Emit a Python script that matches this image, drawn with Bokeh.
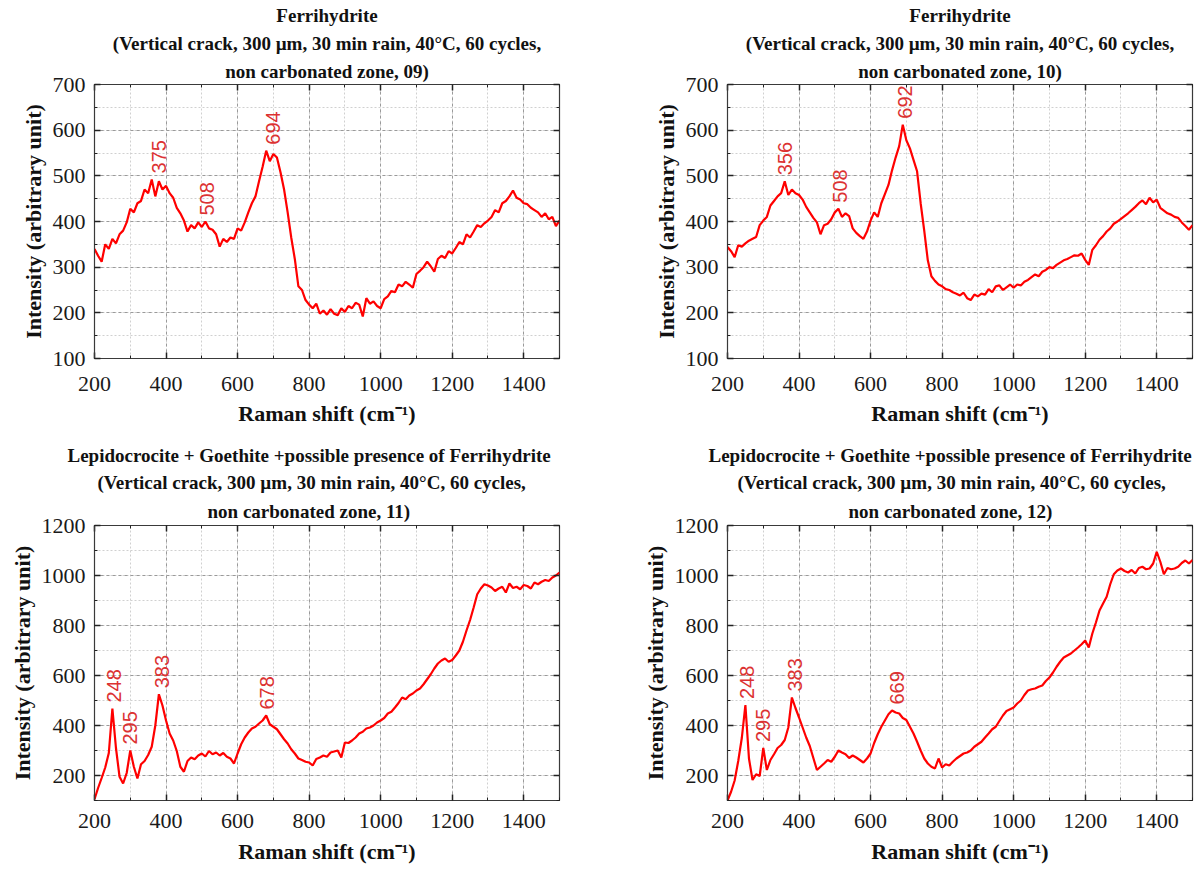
import numpy as np
from bokeh.plotting import figure
from bokeh.models import Title, LinearAxis, SingleIntervalTicker, Range1d, CustomJSTickFormatter
from bokeh.layouts import column, row
from bokeh.embed import file_html
from bokeh.resources import INLINE
from bokeh.core.properties import value

# ---------------- data ----------------
wavenumber = list(range(200, 1501, 10))

intensity_09 = [
    340, 325, 312, 350, 340, 362, 352, 372, 380, 398,
    428, 420, 440, 445, 470, 462, 492, 455, 488, 470,
    478, 462, 452, 430, 418, 402, 378, 392, 385, 398,
    388, 400, 385, 382, 372, 345, 362, 355, 365, 362,
    385, 380, 398, 420, 440, 455, 488, 520, 555, 532,
    548, 540, 508, 470, 420, 365, 318, 258, 250, 228,
    218, 210, 220, 198, 205, 196, 208, 198, 195, 210,
    202, 215, 210, 222, 218, 192, 232, 220, 225, 215,
    210, 230, 236, 248, 245, 262, 258, 268, 262, 255,
    285, 292, 300, 312, 302, 290, 318, 325, 320, 335,
    330, 342, 355, 350, 372, 365, 378, 392, 388, 396,
    402, 410, 425, 420, 440, 445, 455, 468, 452, 448,
    440, 438, 430, 425, 420, 410, 418, 405, 410, 390,
    402]

intensity_10 = [
    344, 335, 322, 348, 345, 352, 358, 362, 366, 392,
    402, 410, 435, 445, 455, 462, 488, 458, 470, 462,
    458, 448, 432, 420, 408, 398, 372, 392, 395, 405,
    420, 428, 410, 418, 412, 385, 375, 368, 362, 378,
    402, 420, 410, 440, 460, 480, 512, 540, 565, 612,
    578, 560, 535, 510, 440, 380, 315, 280, 270, 262,
    258, 252, 250, 245, 242, 238, 244, 232, 228, 240,
    236, 242, 240, 252, 245, 258, 260, 250, 256, 262,
    255, 262, 260, 268, 272, 278, 284, 280, 290, 294,
    300, 298, 305, 310, 315, 318, 322, 326, 325, 330,
    316, 305, 338, 348, 360, 368, 378, 385, 395, 400,
    406, 412, 418, 425, 432, 440, 446, 438, 452, 442,
    448, 430, 424, 418, 415, 410, 408, 398, 390, 382,
    392]

intensity_11 = [
    105, 150, 190, 232, 290, 468, 310, 195, 168, 210,
    300, 235, 188, 245, 258, 282, 315, 400, 525, 480,
    420, 368, 340, 298, 235, 215, 258, 272, 265, 280,
    288, 276, 298, 285, 292, 280, 290, 275, 268, 248,
    288, 325, 352, 372, 388, 395, 408, 420, 440, 405,
    395, 385, 365, 345, 328, 305, 288, 268, 262, 255,
    252, 240, 266, 272, 280, 275, 292, 296, 300, 272,
    332, 330, 340, 352, 368, 375, 388, 392, 400, 412,
    420, 430, 448, 455, 472, 490, 512, 505, 520, 528,
    540, 548, 565, 585, 605, 628, 648, 660, 668, 655,
    662, 680, 700, 735, 780, 822, 872, 925, 948, 965,
    960, 952, 938, 948, 955, 932, 968, 950, 955, 945,
    962, 958, 948, 972, 965, 975, 982, 978, 992, 1000,
    1012]

intensity_12 = [
    100, 135, 180, 258, 350, 482, 268, 182, 205, 198,
    310, 222, 262, 285, 310, 322, 342, 392, 512, 470,
    432, 392, 352, 318, 270, 222, 235, 248, 262, 255,
    275, 300, 292, 285, 270, 280, 272, 262, 252, 268,
    288, 330, 365, 395, 420, 445, 460, 452, 448, 430,
    422, 395, 368, 335, 300, 268, 248, 235, 228, 268,
    232, 245, 240, 255, 268, 278, 288, 292, 300, 315,
    325, 335, 352, 368, 385, 395, 418, 440, 458, 465,
    472, 488, 500, 522, 540, 545, 548, 555, 560, 578,
    592, 612, 635, 655, 672, 680, 688, 700, 712, 725,
    740, 712, 768, 812, 860, 888, 915, 965, 1005, 1020,
    1028, 1018, 1012, 1022, 1008, 1030, 1035, 1025, 1028, 1048,
    1095, 1055, 1005, 1030, 1025, 1028, 1035, 1050, 1060, 1048,
    1062]

peaks_09 = [375, 508, 694]
peaks_10 = [356, 508, 692]
peaks_11 = [248, 295, 383, 678]
peaks_12 = [248, 295, 383, 669]

title_ferri = "Ferrihydrite"
title_lepido = "Lepidocrocite + Goethite +possible presence of Ferrihydrite"
title_conditions = "(Vertical crack, 300 \u00b5m, 30 min rain, 40\u00b0C, 60 cycles,"
title_zone = ["non carbonated zone, 09)", "non carbonated zone, 10)",
              "non carbonated zone, 11)", "non carbonated zone, 12)"]

x_label = "Raman shift (cm\u207b\u00b9)"
y_label = "Intensity (arbitrary unit)"

# ---------------- styling ----------------
SERIF = "Liberation Serif"
LINE_RED = "#ff0000"
LABEL_RED = "#dc3232"
BLANK = CustomJSTickFormatter(code="return ''")


def panel(intensity, peaks, head, zone, y_lo, y_hi, y_step,
          width, height, b_left, b_right, b_top, b_bottom,
          title_place, x_std):
    p = figure(width=width, height=height, output_backend="svg",
               toolbar_location=None, title=None,
               x_range=Range1d(200, 1500), y_range=Range1d(y_lo, y_hi),
               min_border_left=b_left, min_border_right=b_right,
               min_border_top=b_top, min_border_bottom=b_bottom,
               background_fill_color="white", border_fill_color="white",
               outline_line_color="#3a3a3a", outline_line_width=1.2)
    p.xaxis.ticker = SingleIntervalTicker(interval=200, num_minor_ticks=2)
    p.yaxis.ticker = SingleIntervalTicker(interval=y_step, num_minor_ticks=2)
    for ax in (p.xaxis[0], p.yaxis[0]):
        ax.major_tick_in = 6
        ax.major_tick_out = 0
        ax.minor_tick_in = 3
        ax.minor_tick_out = 0
        ax.axis_line_color = "#3a3a3a"
        ax.major_tick_line_color = "#222222"
        ax.minor_tick_line_color = "#222222"
        ax.major_tick_line_width = 1.5
        ax.major_label_text_font = SERIF
        ax.major_label_text_font_size = "22px"
        ax.major_label_text_color = "#1a1a1a"
        ax.axis_label_text_font = SERIF
        ax.axis_label_text_font_style = "bold"
        ax.axis_label_text_font_size = "22px"
        ax.axis_label_text_color = "#111111"
    p.xaxis.axis_label = x_label
    p.yaxis.axis_label = y_label
    p.xaxis.major_label_standoff = x_std[0]
    p.xaxis.axis_label_standoff = x_std[1]
    p.yaxis.major_label_standoff = 9
    p.yaxis.axis_label_standoff = 4

    for ticker, loc in ((SingleIntervalTicker(interval=200, num_minor_ticks=2), "above"),
                        (SingleIntervalTicker(interval=y_step, num_minor_ticks=2), "right")):
        ax = LinearAxis(ticker=ticker, formatter=BLANK,
                        major_label_standoff=0, major_tick_in=6, major_tick_out=0,
                        minor_tick_in=3, minor_tick_out=0, axis_line_color=None,
                        major_tick_line_color="#222222", minor_tick_line_color="#222222",
                        major_tick_line_width=1.5)
        p.add_layout(ax, loc)

    for g in (p.xgrid[0], p.ygrid[0]):
        g.grid_line_color = "#9a9a9a"
        g.grid_line_dash = "3 3"
        g.grid_line_width = 1
        g.minor_grid_line_color = "#d0d0d0"
        g.minor_grid_line_dash = "2 2"
        g.minor_grid_line_width = 1

    p.line(wavenumber, intensity, line_color=LINE_RED, line_width=2.2)

    # peak labels: anchored just above the local maximum of the spectrum
    xs = np.array(wavenumber)
    ys = np.array(intensity)
    lab_y = [float(ys[np.abs(xs - pk) <= 15].max()) for pk in peaks]
    p.text(x=peaks, y=lab_y, text=[str(pk) for pk in peaks], angle=np.pi / 2,
           text_align="left", text_baseline="middle", y_offset=-6, x_offset=2,
           text_color=LABEL_RED, text_font=value("Liberation Sans"),
           text_font_size="20px")

    # title_place: list of (align, offset, standoff) for zone, conditions, head
    for line, (al, off, so) in zip((zone, title_conditions, head), title_place):
        p.add_layout(Title(text=line, align=al, offset=off,
                           text_font=SERIF, text_font_style="bold",
                           text_font_size="19px", text_color="#111111",
                           standoff=so), "above")
    return p


top_place = [("center", 0, 5), ("center", 0, 5), ("center", 0, 5)]
p1 = panel(intensity_09, peaks_09, title_ferri, title_zone[0], 100, 700, 100,
           600, 438, 94, 41, 84, 80, top_place, (18, 7))
p2 = panel(intensity_10, peaks_10, title_ferri, title_zone[1], 100, 700, 100,
           599, 438, 127, 7, 84, 80, top_place, (18, 7))
p3 = panel(intensity_11, peaks_11, title_lepido, title_zone[2], 100, 1200, 200,
           600, 434, 94, 41, 87, 72,
           [("left", 113, 8), ("left", 3, 4), ("left", -27, 4)], (13, 8))
p4 = panel(intensity_12, peaks_12, title_lepido, title_zone[3], 100, 1200, 200,
           599, 434, 127, 7, 87, 72,
           [("left", 121, 8), ("left", 10, 4), ("left", -19, 4)], (13, 8))

layout = column(row(p1, p2), row(p3, p4))
open("out.html", "w").write(file_html(layout, INLINE))
